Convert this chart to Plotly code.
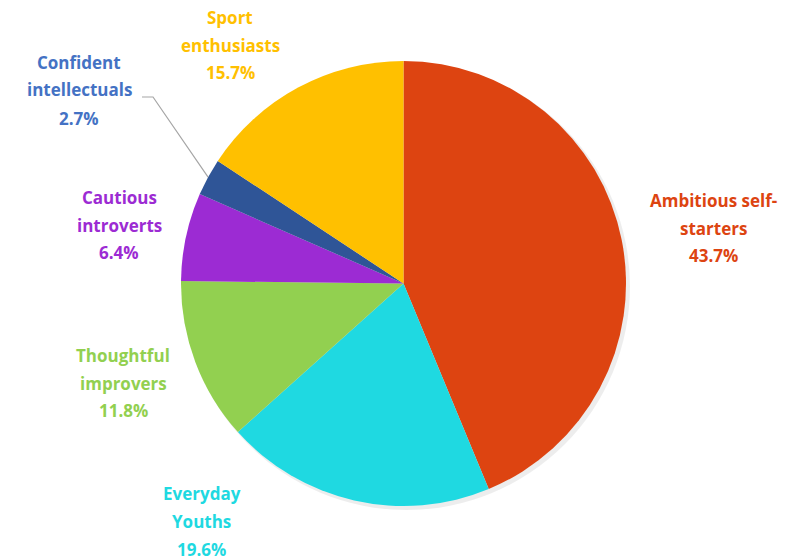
import math
import plotly.graph_objects as go

# Segment shares (%), drawn clockwise from 12 o'clock
segments = ["Ambitious self-starters", "Everyday Youths", "Thoughtful improvers",
            "Cautious introverts", "Confident intellectuals", "Sport enthusiasts"]
shares = [43.7, 19.6, 11.8, 6.4, 2.7, 15.7]
label_lines = [["Ambitious self-", "starters"], ["Everyday", "Youths"],
               ["Thoughtful", "improvers"], ["Cautious", "introverts"],
               ["Confident", "intellectuals"], ["Sport", "enthusiasts"]]

slice_colors = ["#DD4411", "#1FD9E1", "#92D050", "#9C2BD3", "#2F5597", "#FFC000"]
text_colors = ["#DD4411", "#1FD9E1", "#92D050", "#9C2BD3", "#4472C4", "#FFC000"]

W, H = 792, 560
CX, CY, R = 403.5, 283.5, 222.5

# Label block centres (pixels, first line) for each segment
label_pos = [(713, 200), (202, 493), (123, 355), (119, 197), (79, 62), (230, 17)]
LINE_GAP = 28

fig = go.Figure()

# faint drop shadow behind the pie
fig.add_shape(type="circle", xref="paper", yref="paper",
              x0=(CX - R + 2) / W, x1=(CX + R + 4) / W,
              y0=1 - (CY + R + 4) / H, y1=1 - (CY - R + 2) / H,
              line=dict(width=0), fillcolor="rgba(0,0,0,0.07)", layer="below")

fig.add_trace(go.Pie(
    labels=segments, values=shares, sort=False, direction="clockwise", rotation=0,
    marker=dict(colors=slice_colors, line=dict(width=0)),
    textinfo="none", hoverinfo="label+percent", showlegend=False,
    domain=dict(x=[(CX - R) / W, (CX + R) / W], y=[1 - (CY + R) / H, 1 - (CY - R) / H]),
))

font_family = "Open Sans"
for name, val, lines, col, (px, py) in zip(segments, shares, label_lines, text_colors, label_pos):
    all_lines = lines + [f"{val:.1f}%"]
    for i, ln in enumerate(all_lines):
        fig.add_annotation(x=px / W, y=1 - (py + i * LINE_GAP) / H, xref="paper", yref="paper",
                           text=f"<b>{ln}</b>", showarrow=False, xanchor="center", yanchor="middle",
                           font=dict(family=font_family, size=17, color=col))

# leader line for the thin "Confident intellectuals" slice
idx = segments.index("Confident intellectuals")
start = sum(shares[:idx])
mid = (start + shares[idx] / 2) / sum(shares) * 2 * math.pi
ex, ey = CX + R * math.sin(mid), CY - R * math.cos(mid)
fig.add_shape(type="path", xref="paper", yref="paper",
              path=f"M {142 / W},{1 - 97 / H} L {153 / W},{1 - 97 / H} L {ex / W},{1 - ey / H}",
              line=dict(color="#A6A6A6", width=1.2))

fig.update_layout(width=W, height=H, margin=dict(l=0, r=0, t=0, b=0),
                  paper_bgcolor="white", plot_bgcolor="white")
fig.write_html("out.html")
